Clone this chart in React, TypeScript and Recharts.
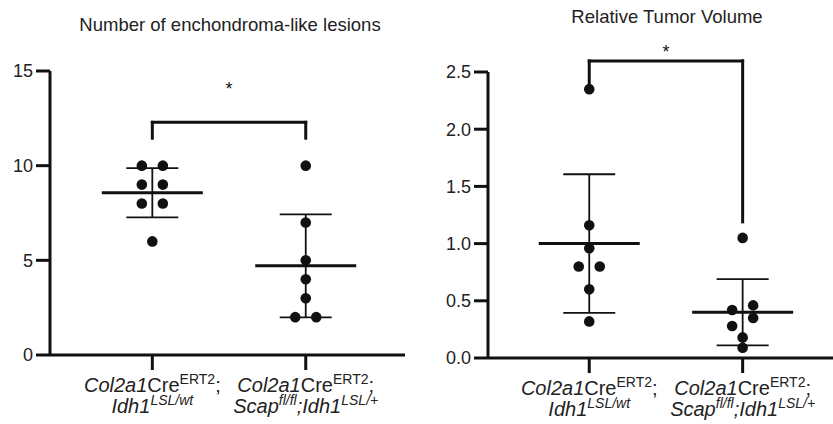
import { ComposedChart, ErrorBar, ReferenceDot, ReferenceLine, Scatter, XAxis, YAxis } from "recharts"

const groups = [1, 2]

// Number of enchondroma-like lesions
const lesionsControl = [10, 10, 9, 9, 8, 8, 6]
const lesionsScap = [10, 7, 5, 4, 3, 2, 2]
const lesionsMean = [8.57, 4.71]
const lesionsSd = [1.3, 2.72]
const lesionsTicks = [0, 5, 10, 15]
const lesionsBracket = { top: 12.29, legs: [11.45, 11.45], star: 14.26 }

// Relative tumor volume
const volumeControl = [2.35, 1.16, 0.96, 0.8, 0.8, 0.6, 0.32]
const volumeScap = [1.05, 0.46, 0.42, 0.35, 0.28, 0.18, 0.09]
const volumeMean = [1.0, 0.4]
const volumeSd = [0.606, 0.29]
const volumeTicks = [0, 0.5, 1, 1.5, 2, 2.5]
const volumeBracket = { top: 2.597, legs: [2.36, 1.19], star: 2.71 }

type Part = { t: string; i?: boolean; sup?: boolean }

const groupLabels: Part[][][] = [
  [
    [{ t: "Col2a1", i: true }, { t: "Cre" }, { t: "ERT2", sup: true }, { t: ";" }],
    [{ t: "Idh1", i: true }, { t: "LSL/wt", i: true, sup: true }],
  ],
  [
    [{ t: "Col2a1", i: true }, { t: "Cre" }, { t: "ERT2", sup: true }, { t: ";" }],
    [{ t: "Scap", i: true }, { t: "fl/fl", i: true, sup: true }, { t: ";", i: true }, { t: "Idh1", i: true }, { t: "LSL/+", i: true, sup: true }],
  ],
]

const FONT = "'Liberation Sans', Arial, Helvetica, sans-serif"
const INK = "#111"
const TEXT = "#222"
const H = 424

// simple beeswarm: values closer than ~one dot are put side by side
const swarm = (values: number[], cat: number, pxPerY: number, pxPerX: number) => {
  const sorted = [...values].sort((a, b) => b - a)
  const rows: number[][] = []
  sorted.forEach((v) => {
    const row = rows[rows.length - 1]
    if (row && (row[0] - v) * pxPerY < 9.5) row.push(v)
    else rows.push([v])
  })
  return rows.flatMap((row) =>
    [...row].sort((a, b) => a - b).map((v, i) => ({ x: cat + ((i - (row.length - 1) / 2) * 21) / pxPerX, y: v }))
  )
}

const GroupTick = (props: any) => {
  const { x, y, payload } = props
  const lines = groupLabels[groups.indexOf(payload.value)]
  if (!lines) return null
  return (
    <g>
      {lines.map((parts, li) => {
        let shifted = false
        return (
          <text key={li} x={x} y={y + 22 + li * 21} textAnchor="middle" fontSize={20} fill={TEXT} fontFamily={FONT}>
            {parts.map((p, pi) => {
              let dy = 0
              if (p.sup && !shifted) { dy = -8; shifted = true }
              else if (!p.sup && shifted) { dy = 8; shifted = false }
              return (
                <tspan key={pi} dy={dy} fontStyle={p.i ? "italic" : "normal"} fontSize={p.sup ? 14 : 20}>
                  {p.t}
                </tspan>
              )
            })}
          </text>
        )
      })}
    </g>
  )
}

interface PanelProps {
  left: number
  width: number
  yWidth: number
  top: number
  bottom: number
  right: number
  xDomain: [number, number]
  yDomain: [number, number]
  ticks: number[]
  fmt: (v: number) => string
  values: number[][]
  means: number[]
  sds: number[]
  bracket: { top: number; legs: number[]; star: number }
}

const Panel = (p: PanelProps) => {
  const plotH = H - p.top - p.bottom
  const plotW = p.width - p.yWidth - p.right
  const pxPerY = plotH / (p.yDomain[1] - p.yDomain[0])
  const pxPerX = plotW / (p.xDomain[1] - p.xDomain[0])
  const points = p.values.flatMap((vals, i) => swarm(vals, groups[i], pxPerY, pxPerX))
  const meanData = groups.map((g, i) => ({ x: g, y: p.means[i], sd: p.sds[i] }))
  const line = { stroke: INK, strokeWidth: 3 }
  const b = p.bracket

  return (
    <div style={{ position: "absolute", left: p.left, top: 0 }}>
      <ComposedChart width={p.width} height={H} margin={{ top: p.top, right: p.right, bottom: 0, left: 0 }}>
        <XAxis
          type="number"
          dataKey="x"
          domain={p.xDomain}
          ticks={groups}
          interval={0}
          allowDataOverflow
          height={p.bottom}
          tickSize={15}
          tickMargin={0}
          axisLine={line}
          tickLine={line}
          tick={<GroupTick />}
        />
        <YAxis
          type="number"
          dataKey="y"
          domain={p.yDomain}
          ticks={p.ticks}
          interval={0}
          allowDataOverflow
          width={p.yWidth}
          tickSize={14}
          tickMargin={3}
          axisLine={line}
          tickLine={line}
          tickFormatter={p.fmt}
          tick={{ fontSize: 18, fill: TEXT, fontFamily: FONT }}
        />
        <ReferenceLine segment={[{ x: groups[0], y: b.legs[0] }, { x: groups[0], y: b.top }]} {...line} strokeLinecap="square" ifOverflow="visible" />
        <ReferenceLine segment={[{ x: groups[0], y: b.top }, { x: groups[1], y: b.top }]} {...line} strokeLinecap="square" ifOverflow="visible" />
        <ReferenceLine segment={[{ x: groups[1], y: b.top }, { x: groups[1], y: b.legs[1] }]} {...line} strokeLinecap="square" ifOverflow="visible" />
        <ReferenceDot
          x={(groups[0] + groups[1]) / 2}
          y={b.star}
          ifOverflow="visible"
          shape={(s: any) => (
            <text x={s.cx} y={s.cy + 10} textAnchor="middle" fontSize={18} fill={INK} fontFamily={FONT}>
              *
            </text>
          )}
        />
        <Scatter
          data={meanData}
          isAnimationActive={false}
          shape={(s: any) => <line x1={s.cx - 50.5} x2={s.cx + 50.5} y1={s.cy} y2={s.cy} stroke={INK} strokeWidth={3} />}
        >
          <ErrorBar dataKey="sd" direction="y" width={26} stroke={INK} strokeWidth={1.8} isAnimationActive={false} />
        </Scatter>
        <Scatter
          data={points}
          isAnimationActive={false}
          shape={(s: any) => <circle cx={s.cx} cy={s.cy} r={5.3} fill={INK} />}
        />
      </ComposedChart>
    </div>
  )
}

const titleStyle = {
  position: "absolute" as const,
  transform: "translateX(-50%)",
  whiteSpace: "nowrap" as const,
  fontFamily: FONT,
  fontSize: 18.5,
  color: TEXT,
}

export default function App() {
  return (
    <div style={{ position: "absolute", left: 0, top: 0, width: 833, height: H, background: "#fff", overflow: "hidden" }}>
      <div style={{ ...titleStyle, left: 230, top: 14 }}>Number of enchondroma-like lesions</div>
      <div style={{ ...titleStyle, left: 667, top: 6 }}>Relative Tumor Volume</div>
      <Panel
        left={0}
        width={420}
        yWidth={50}
        top={71}
        bottom={69}
        right={15}
        xDomain={[0.333, 2.647]}
        yDomain={[0, 15]}
        ticks={lesionsTicks}
        fmt={(v) => String(v)}
        values={[lesionsControl, lesionsScap]}
        means={lesionsMean}
        sds={lesionsSd}
        bracket={lesionsBracket}
      />
      <Panel
        left={420}
        width={413}
        yWidth={68}
        top={72}
        bottom={66}
        right={0}
        xDomain={[0.34, 2.589]}
        yDomain={[0, 2.5]}
        ticks={volumeTicks}
        fmt={(v) => v.toFixed(1)}
        values={[volumeControl, volumeScap]}
        means={volumeMean}
        sds={volumeSd}
        bracket={volumeBracket}
      />
    </div>
  )
}
